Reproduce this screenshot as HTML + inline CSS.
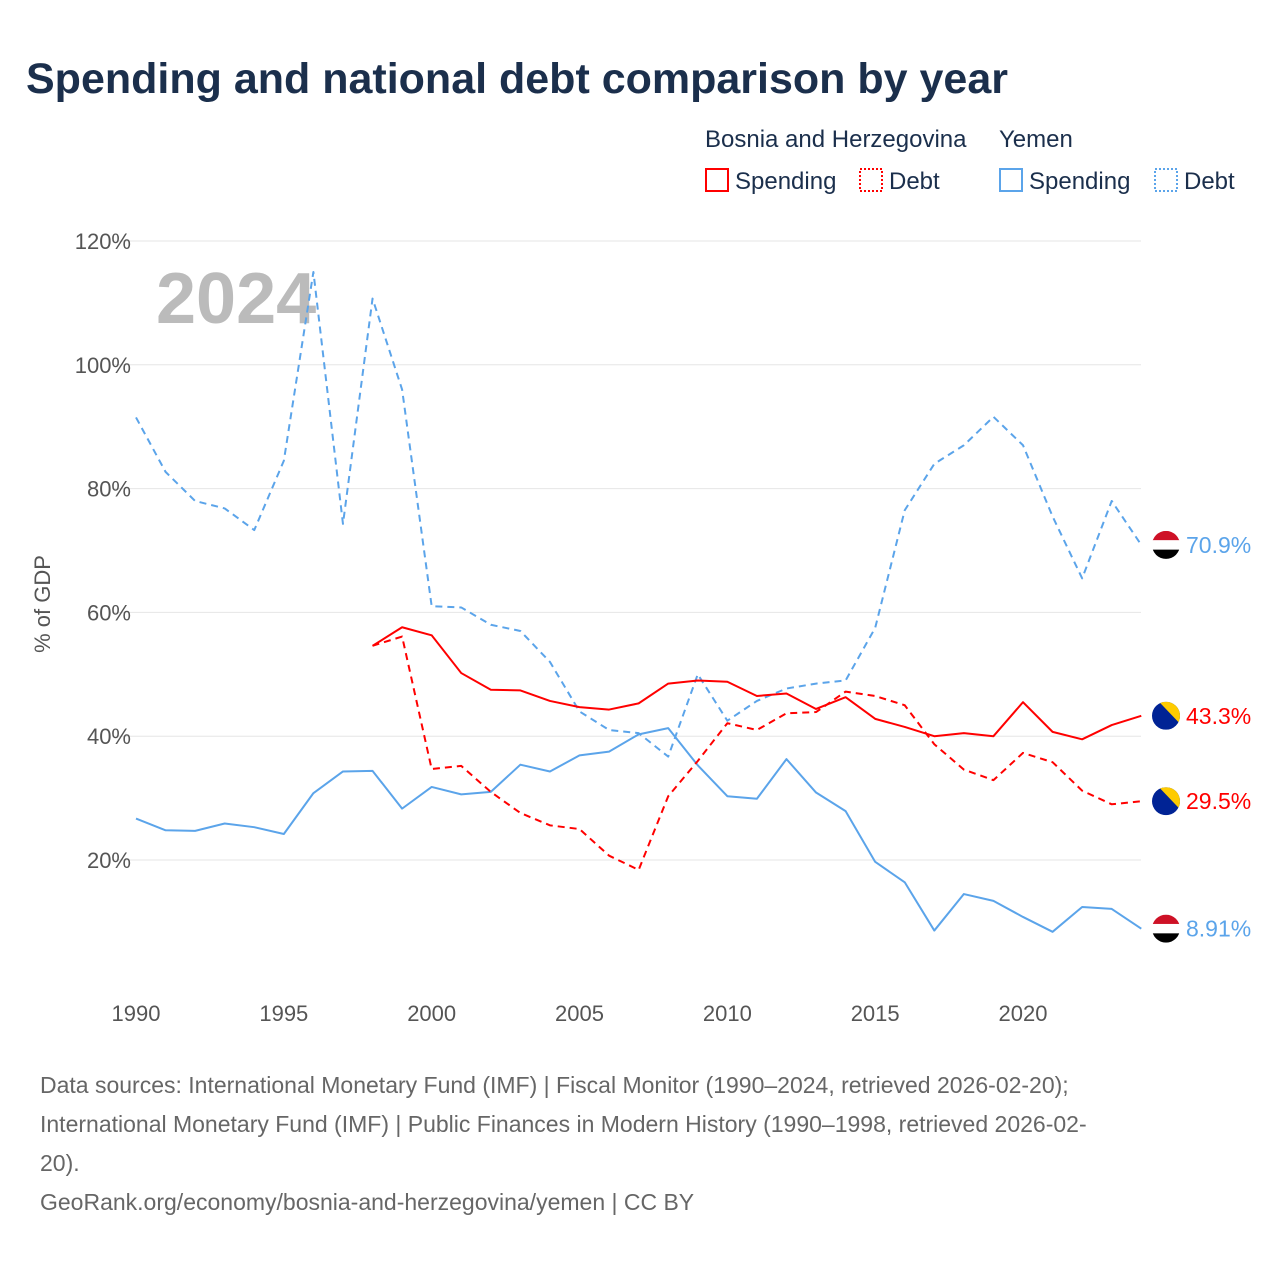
<!DOCTYPE html>
<html><head><meta charset="utf-8"><style>
body{margin:0;background:#fff;font-family:"Liberation Sans",sans-serif}
</style></head><body>
<svg width="1280" height="1280" xmlns="http://www.w3.org/2000/svg" font-family="Liberation Sans, sans-serif">
<text x="26" y="93" font-size="43" font-weight="bold" fill="#1b2f4c">Spending and national debt comparison by year</text>
<g font-size="24" fill="#1b2f4c">
<text x="705" y="147">Bosnia and Herzegovina</text><text x="999" y="147">Yemen</text>
<rect x="706" y="169" width="22" height="22" fill="none" stroke="#f00" stroke-width="2"/><text x="735" y="189">Spending</text>
<rect x="860" y="169" width="22" height="22" fill="none" stroke="#f00" stroke-width="2" stroke-dasharray="2,2"/><text x="889" y="189">Debt</text>
<rect x="1000" y="169" width="22" height="22" fill="none" stroke="#5ba4ea" stroke-width="2"/><text x="1029" y="189">Spending</text>
<rect x="1155" y="169" width="22" height="22" fill="none" stroke="#5ba4ea" stroke-width="2" stroke-dasharray="2,2"/><text x="1184" y="189">Debt</text>
</g>
<defs id="defs"></defs>
<g id="grid"></g><g id="axes"></g>
<text x="156" y="323" font-size="72" font-weight="bold" fill="#bbb">2024</text>
<text transform="translate(50,604) rotate(-90)" text-anchor="middle" font-size="22" fill="#555">% of GDP</text>
<g id="series"></g>
<g font-size="23" fill="#666">
<text x="40" y="1093">Data sources: International Monetary Fund (IMF) | Fiscal Monitor (1990–2024, retrieved 2026-02-20);</text>
<text x="40" y="1132">International Monetary Fund (IMF) | Public Finances in Modern History (1990–1998, retrieved 2026-02-</text>
<text x="40" y="1171">20).</text>
<text x="40" y="1210">GeoRank.org/economy/bosnia-and-herzegovina/yemen | CC BY</text>
</g>
</svg>
<script>
const yemDebt=[91.5,82.7,78,76.8,73.3,84.5,115,74.3,110.7,96,61,60.8,58,57,52,44,41,40.5,36.7,50,42.5,45.7,47.7,48.5,49,57.5,76.5,84,87,91.6,87,75.5,65.5,78,70.9];
const yemSpend=[26.7,24.8,24.7,25.9,25.3,24.2,30.8,34.3,34.4,28.3,31.8,30.6,31,35.4,34.3,36.9,37.5,40.3,41.3,35.3,30.3,29.9,36.3,30.9,27.9,19.7,16.4,8.6,14.5,13.4,10.8,8.4,12.4,12.1,8.91];
const bihSpend=[54.6,57.6,56.3,50.2,47.5,47.4,45.7,44.7,44.3,45.3,48.5,49,48.8,46.5,46.9,44.4,46.3,42.8,41.5,40,40.5,40,45.5,40.7,39.5,41.8,43.3];
const bihDebt=[54.6,56.1,34.7,35.2,31,27.6,25.6,25,20.7,18.4,30.3,36,42.1,41,43.7,43.9,47.2,46.5,45,38.7,34.6,32.9,37.3,35.8,31.2,29,29.5];
const yTicks=[20,40,60,80,100,120];
const xTicks=[1990,1995,2000,2005,2010,2015,2020];
const endLabels=["70.9%","43.3%","29.5%","8.91%"];
const NS="http://www.w3.org/2000/svg";
const X=y=>136+(y-1990)*29.567, Y=v=>983.8-v*6.19;
function mk(t,a,p){const e=document.createElementNS(NS,t);for(const k in a)e.setAttribute(k,a[k]);p.appendChild(e);return e;}
const g=document.getElementById('grid'),ax=document.getElementById('axes'),s=document.getElementById('series'),defs=document.getElementById('defs');
yTicks.forEach(v=>{const l=mk('line',{x1:112,x2:1141,y1:Y(v),y2:Y(v),stroke:'#e6e6e6'},g);


const t=mk('text',{x:131,y:Y(v)+8,'text-anchor':'end','font-size':22,fill:'#555'},ax);t.textContent=v+'%';

});
xTicks.forEach(v=>{const t=mk('text',{x:X(v),y:1021,'text-anchor':'middle','font-size':22,fill:'#555'},ax);t.textContent=v;

});
function line(d,start,col,dash,name){const pts=d.map((v,i)=>X(start+i)+','+Y(v)).join(' ');
const p=mk('polyline',{points:pts,fill:'none',stroke:col,'stroke-width':2,'stroke-dasharray':dash?'7,5':'none','stroke-linejoin':'round'},s);

}
line(yemDebt,1990,'#5ba4ea',true,'yemen-debt-line');
line(yemSpend,1990,'#5ba4ea',false,'yemen-spending-line');
line(bihDebt,1998,'#f00',true,'bih-debt-line');
line(bihSpend,1998,'#f00',false,'bih-spending-line');
const ends=[[yemDebt,'#5ba4ea','yem'],[bihSpend,'#f00','bih'],[bihDebt,'#f00','bih'],[yemSpend,'#5ba4ea','yem']];
ends.forEach((e,i)=>{const v=e[0][e[0].length-1],cy=Y(v),cx=1166;
const cp=mk('clipPath',{id:'fc'+i},defs);mk('circle',{cx,cy,r:14},cp);
const fg=mk('g',{'clip-path':'url(#fc'+i+')'},s);


if(e[2]=='yem'){mk('rect',{x:cx-14,y:cy-14,width:28,height:9.4,fill:'#ce1126'},fg);mk('rect',{x:cx-14,y:cy-4.7,width:28,height:9.4,fill:'#fff'},fg);mk('rect',{x:cx-14,y:cy+4.7,width:28,height:9.4,fill:'#000'},fg);}
else{mk('rect',{x:cx-14,y:cy-14,width:28,height:28,fill:'#002395'},fg);mk('path',{d:`M${cx-7},${cy-14} L${cx+14},${cy+8} L${cx+14},${cy-14}z`,fill:'#fecb00'},fg);}
const t=mk('text',{x:1186,y:cy+8,'font-size':23,fill:e[1]},s);t.textContent=endLabels[i];

});
</script>
</body></html>
